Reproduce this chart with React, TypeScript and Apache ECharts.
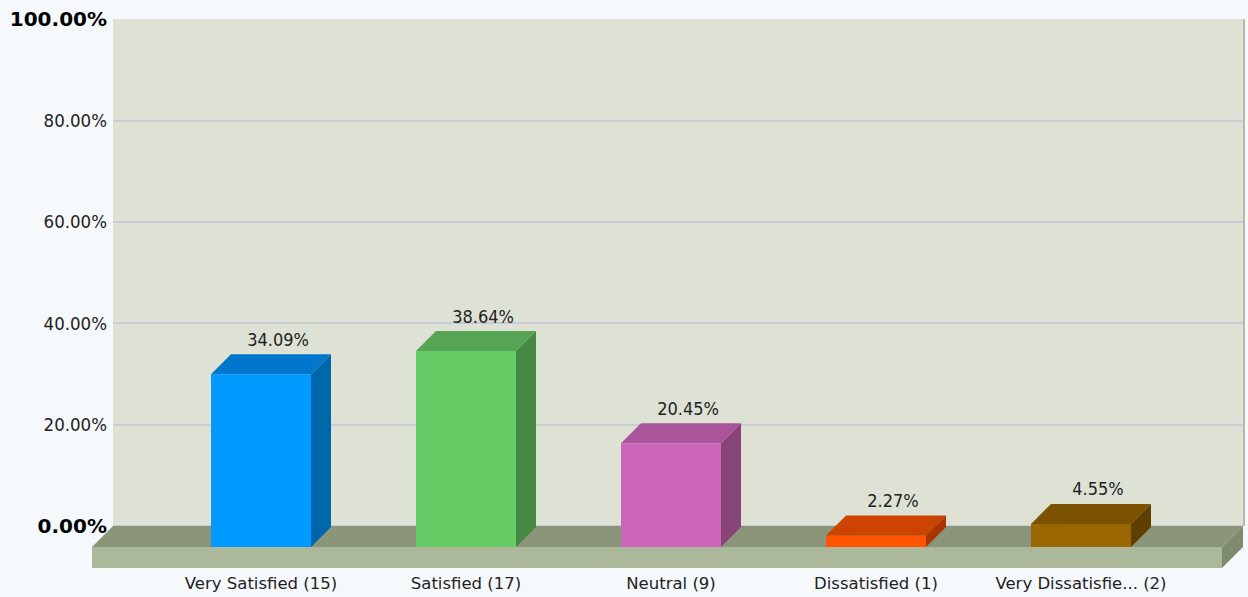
import React, { useEffect, useRef } from "react";
import * as echarts from "echarts";

const categories = [
  "Very Satisfied (15)",
  "Satisfied (17)",
  "Neutral (9)",
  "Dissatisfied (1)",
  "Very Dissatisfie... (2)",
];
const percentages = [34.09, 38.64, 20.45, 2.27, 4.55];
const frontColors = ["#0099ff", "#66cc66", "#cc66bb", "#ff5500", "#996600"];
const topColors = ["#0077cc", "#55a555", "#aa5599", "#cc4400", "#7a5200"];
const sideColors = ["#0066aa", "#448844", "#884477", "#aa3300", "#5e3f00"];

const FONT = "'DejaVu Sans Condensed', 'DejaVu Sans', sans-serif";
const WIDE = "'DejaVu Sans', sans-serif";

export default function App() {
  const ref = useRef<HTMLDivElement>(null);

  useEffect(() => {
    if (!ref.current) return;
    const chart = echarts.init(ref.current, undefined, { renderer: "svg" });
    const option: any = {
      animation: false,
      backgroundColor: "#f5f9fb",
      grid: [
        {
          left: 113,
          right: 5,
          top: 19,
          bottom: 71,
          show: true,
          backgroundColor: "#dde2d5",
          borderWidth: 0,
        },
        { left: 158.5, right: 64.5, top: 40, bottom: 50 },
      ],
      xAxis: [
        { type: "value", gridIndex: 0, min: 0, max: 1, show: false },
        {
          type: "category",
          gridIndex: 1,
          data: categories,
          axisLine: { show: false },
          axisTick: { show: false },
          axisLabel: {
            interval: 0,
            margin: 28,
            fontSize: 16.5,
            fontFamily: WIDE,
            color: "#222",
          },
        },
      ],
      yAxis: [
        {
          type: "value",
          gridIndex: 0,
          min: 0,
          max: 100,
          interval: 20,
          axisLine: { show: false },
          axisTick: { show: false },
          splitLine: {
            show: true,
            showMaxLine: false,
            lineStyle: { color: "#c9ccd2", width: 2 },
          },
          axisLabel: {
            margin: 6,
            fontSize: 18.5,
            fontFamily: FONT,
            color: "#222",
            formatter: (v: number) =>
              v === 0 || v === 100 ? `{b|${v.toFixed(2)}%}` : `${v.toFixed(2)}%`,
            rich: {
              b: {
                fontSize: 20,
                fontWeight: "bold",
                fontFamily: WIDE,
                color: "#000",
              },
            },
          },
        },
        { type: "value", gridIndex: 1, min: 0, max: 100, show: false },
      ],
      series: [
        {
          type: "custom",
          xAxisIndex: 0,
          yAxisIndex: 0,
          z: 1,
          silent: true,
          data: [[0.5, 0]],
          renderItem: (params: any, api: any) => {
            const cs = params.coordSys;
            const x0 = cs.x;
            const x1 = cs.x + cs.width;
            const yb = cs.y + cs.height;
            const d = 21;
            const t = 21;
            return {
              type: "group",
              children: [
                {
                  type: "rect",
                  shape: { x: x1, y: cs.y, width: 2, height: cs.height },
                  style: { fill: "#b4b9ab" },
                },
                {
                  type: "polygon",
                  shape: { points: [[x0, yb], [x1, yb], [x1 - d, yb + d], [x0 - d, yb + d]] },
                  style: { fill: "#8a9579" },
                },
                {
                  type: "rect",
                  shape: { x: x0 - d, y: yb + d, width: cs.width, height: t },
                  style: { fill: "#abb99a" },
                },
                {
                  type: "polygon",
                  shape: { points: [[x1, yb], [x1, yb + t], [x1 - d, yb + d + t], [x1 - d, yb + d]] },
                  style: { fill: "#7e8a6e" },
                },
              ],
            };
          },
        },
        {
          type: "custom",
          xAxisIndex: 1,
          yAxisIndex: 1,
          z: 2,
          data: percentages.map((v, i) => [i, v]),
          renderItem: (params: any, api: any) => {
            const i = params.dataIndex;
            const idx = api.value(0);
            const v = api.value(1);
            const base = api.coord([idx, 0]);
            const top = api.coord([idx, v]);
            const w = 100;
            const d = 20;
            const x0 = base[0] - w / 2;
            const x1 = x0 + w;
            const yT = top[1];
            const yB = base[1];
            return {
              type: "group",
              children: [
                {
                  type: "rect",
                  shape: { x: x0, y: yT, width: w, height: yB - yT },
                  style: { fill: frontColors[i] },
                },
                {
                  type: "polygon",
                  shape: { points: [[x0, yT], [x1, yT], [x1 + d, yT - d], [x0 + d, yT - d]] },
                  style: { fill: topColors[i] },
                },
                {
                  type: "polygon",
                  shape: { points: [[x1, yT], [x1 + d, yT - d], [x1 + d, yB - d], [x1, yB]] },
                  style: { fill: sideColors[i] },
                },
                {
                  type: "text",
                  x: base[0] + 17,
                  y: yT - d - 15,
                  style: {
                    text: `${v.toFixed(2)}%`,
                    fill: "#222",
                    fontSize: 18,
                    fontFamily: FONT,
                    align: "center",
                    verticalAlign: "middle",
                  },
                },
              ],
            };
          },
        },
      ],
    };
    chart.setOption(option);
    return () => chart.dispose();
  }, []);

  return (
    <div
      ref={ref}
      style={{ position: "absolute", left: 0, top: 0, width: 1248, height: 597 }}
    />
  );
}
